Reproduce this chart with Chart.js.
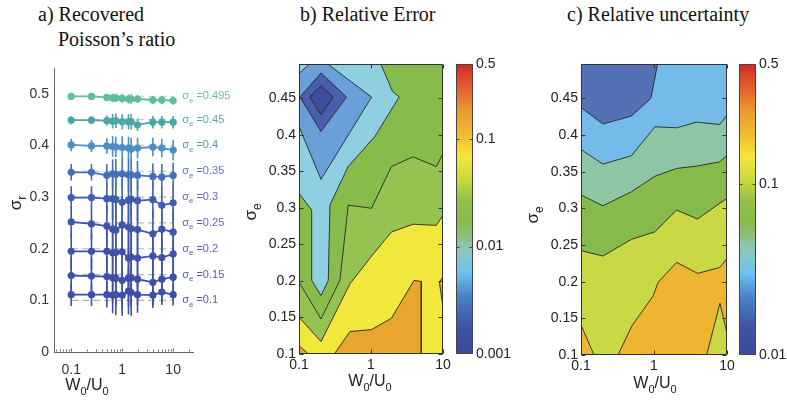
<!DOCTYPE html>
<html>
<head>
<meta charset="utf-8">
<script src="https://cdn.jsdelivr.net/npm/chart.js@4"></script>
<style>
  html, body { margin: 0; padding: 0; background: #fff; }
  body { position: relative; width: 787px; height: 408px; overflow: hidden; }
  canvas { position: absolute; top: 0; }
  .title {
    position: absolute; white-space: nowrap; color: #111;
    font-family: "Liberation Serif", "Times New Roman", serif;
    font-size: 20px; line-height: 24px;
  }
</style>
</head>
<body>
<div class="title" style="left:38px;top:2px">a) Recovered</div>
<div class="title" style="left:58px;top:27px">Poisson’s ratio</div>
<div class="title" style="left:300px;top:2px">b) Relative Error</div>
<div class="title" style="left:567px;top:2px">c) Relative uncertainty</div>

<canvas id="chartA" width="240" height="408" style="left:0px"></canvas>
<canvas id="chartB" width="230" height="408" style="left:230px"></canvas>
<canvas id="barB" width="100" height="408" style="left:440px"></canvas>
<canvas id="chartC" width="215" height="408" style="left:520px"></canvas>
<canvas id="barC" width="62" height="408" style="left:725px"></canvas>

<script>
// ---- panel a: recovered Poisson's ratio ----
const W0U0 = [0.1, 0.25, 0.5, 0.65, 0.75, 1, 1.33, 1.5, 2, 4, 6, 10];
const sigmaE = [0.1, 0.15, 0.2, 0.25, 0.3, 0.35, 0.4, 0.45, 0.495];

const sigR_010 = [0.111, 0.111, 0.111, 0.110, 0.111, 0.110, 0.118, 0.115, 0.111, 0.110, 0.116, 0.111];
const sigR_015 = [0.148, 0.147, 0.146, 0.144, 0.143, 0.139, 0.143, 0.144, 0.141, 0.135, 0.141, 0.145];
const sigR_020 = [0.195, 0.195, 0.195, 0.192, 0.193, 0.194, 0.182, 0.184, 0.182, 0.186, 0.183, 0.190];
const sigR_025 = [0.252, 0.248, 0.244, 0.238, 0.236, 0.246, 0.242, 0.239, 0.237, 0.229, 0.238, 0.232];
const sigR_030 = [0.299, 0.299, 0.297, 0.297, 0.295, 0.290, 0.294, 0.296, 0.293, 0.295, 0.284, 0.289];
const sigR_035 = [0.348, 0.348, 0.342, 0.345, 0.344, 0.345, 0.343, 0.343, 0.342, 0.340, 0.339, 0.342];
const sigR_040 = [0.401, 0.399, 0.399, 0.398, 0.397, 0.396, 0.395, 0.393, 0.395, 0.397, 0.395, 0.391];
const sigR_045 = [0.449, 0.449, 0.448, 0.447, 0.448, 0.446, 0.446, 0.446, 0.440, 0.445, 0.445, 0.445];
const sigR_0495 = [0.495, 0.495, 0.493, 0.492, 0.492, 0.491, 0.490, 0.490, 0.490, 0.488, 0.488, 0.487];

const errR_010 = [0.022, 0.022, 0.025, 0.035, 0.040, 0.040, 0.045, 0.045, 0.035, 0.025, 0.025, 0.021];
const errR_015 = [0.035, 0.035, 0.040, 0.050, 0.055, 0.055, 0.055, 0.055, 0.050, 0.045, 0.045, 0.045];
const errR_020 = [0.035, 0.035, 0.045, 0.055, 0.060, 0.060, 0.060, 0.058, 0.055, 0.050, 0.050, 0.050];
const errR_025 = [0.030, 0.030, 0.040, 0.050, 0.052, 0.055, 0.055, 0.052, 0.048, 0.045, 0.045, 0.045];
const errR_030 = [0.022, 0.022, 0.030, 0.040, 0.042, 0.045, 0.045, 0.042, 0.040, 0.035, 0.035, 0.035];
const errR_035 = [0.016, 0.016, 0.022, 0.028, 0.030, 0.030, 0.032, 0.030, 0.028, 0.025, 0.025, 0.025];
const errR_040 = [0.012, 0.012, 0.015, 0.020, 0.020, 0.022, 0.022, 0.022, 0.020, 0.018, 0.018, 0.020];
const errR_045 = [0.008, 0.008, 0.010, 0.014, 0.014, 0.015, 0.015, 0.015, 0.012, 0.012, 0.012, 0.012];
const errR_0495 = [0.006, 0.006, 0.007, 0.008, 0.008, 0.009, 0.009, 0.009, 0.008, 0.008, 0.008, 0.008];

const recoveredSeries = [sigR_010, sigR_015, sigR_020, sigR_025, sigR_030, sigR_035, sigR_040, sigR_045, sigR_0495];
const recoveredErr = [errR_010, errR_015, errR_020, errR_025, errR_030, errR_035, errR_040, errR_045, errR_0495];

const ratioTicksA = [0.1, 1, 10];
const ratioMinorA = [0.05, 0.06, 0.07, 0.08, 0.09, 0.2, 0.3, 0.4, 0.5, 0.6, 0.7, 0.8, 0.9, 2, 3, 4, 5, 6, 7, 8, 9, 20];
const sigmaTicksA = [0, 0.1, 0.2, 0.3, 0.4, 0.5];

// ---- panels b, c: contour regions in (W0/U0, sigma_e) ----
const SIG_MAX = 0.497;
const ratioTicks = [0.1, 1, 10];
const sigmaTicks = [0.1, 0.15, 0.2, 0.25, 0.3, 0.35, 0.4, 0.45];

const errFull = [[0.1, 0.1], [0.1, SIG_MAX], [10, SIG_MAX], [10, 0.1]];
const errAbove002 = [[0.1, 0.1], [0.1, 0.1985], [0.202, 0.148], [0.37, 0.2008], [0.483, 0.3038], [1.016, 0.2995],
  [1.92, 0.3565], [3.84, 0.370], [8.09, 0.3565], [10, 0.3748], [10, 0.1]];
const errAbove005 = [[0.1, 0.1], [0.1, 0.1504], [0.202, 0.117], [0.51, 0.196], [1.0, 0.233], [1.92, 0.267],
  [3.84, 0.2777], [8.09, 0.276], [10, 0.29], [10, 0.1]];
const errAbove01a = [[0.1, 0.1], [0.1, 0.1115], [0.135, 0.1]];
const errAbove01b = [[0.309, 0.1], [0.51, 0.1307], [1.016, 0.1334], [1.92, 0.149], [3.96, 0.2008], [5.0, 0.1994], [5.0, 0.1]];
const errAbove01c = [[10, 0.2055], [8.9, 0.1985], [10, 0.164]];
const errBelow001 = [[0.1, SIG_MAX], [1.37, SIG_MAX], [1.99, 0.4595], [2.46, 0.4517], [1.13, 0.3977], [0.48, 0.3565],
  [0.269, 0.3038], [0.255, 0.2008], [0.202, 0.18], [0.15, 0.2008], [0.15, 0.297], [0.1, 0.3198]];
const errBelow0005 = [[0.1, 0.4838], [0.139, SIG_MAX], [0.25, SIG_MAX], [1.02, 0.4517], [0.202, 0.339], [0.1, 0.4114]];
const errBelow0002 = [[0.103, 0.4517], [0.202, 0.4847], [0.458, 0.4517], [0.202, 0.4046]];
const errBelow0001 = [[0.142, 0.4517], [0.202, 0.4673], [0.299, 0.4517], [0.202, 0.4275]];

const errLayers = [errFull, errAbove002, errAbove005, errAbove01a, errAbove01b, errAbove01c,
  errBelow001, errBelow0005, errBelow0002, errBelow0001];
const errLayerColors = ['#88bc4a', '#96c251', '#f2e73b', '#e8a62f', '#e8a62f', '#e8a62f',
  '#8ecfe0', '#6aa0d8', '#4b5eab', '#3e4d9e'];

const uncFull = [[0.1, 0.1], [0.1, SIG_MAX], [10, SIG_MAX], [10, 0.1]];
const uncAbove02a = [[0.1, 0.1], [0.1, 0.1409], [0.151, 0.1]];
const uncAbove02b = [[0.322, 0.1], [0.49, 0.1386], [0.974, 0.1809], [1.14, 0.1991], [2.04, 0.2264], [3.95, 0.2114],
  [8.0, 0.2195], [10, 0.2318], [10, 0.1295], [8.0, 0.1705], [5.26, 0.1]];
const uncBelow01 = [[0.1, SIG_MAX], [0.1, 0.2423], [0.2, 0.235], [0.49, 0.2577], [1.03, 0.268], [2.04, 0.2977],
  [3.95, 0.2855], [8.0, 0.307], [10, 0.3136], [10, SIG_MAX]];
const uncBelow005 = [[0.1, SIG_MAX], [0.1, 0.3182], [0.2, 0.3036], [0.49, 0.3227], [1.03, 0.344], [2.04, 0.3545],
  [3.83, 0.3577], [8.0, 0.3636], [10, 0.3727], [10, SIG_MAX]];
const uncBelow003 = [[0.1, SIG_MAX], [0.1, 0.3804], [0.2, 0.3604], [0.49, 0.3718], [1.03, 0.4113], [2.04, 0.41],
  [3.83, 0.4177], [8.0, 0.4145], [10, 0.4272], [10, SIG_MAX]];
const uncBelow002 = [[0.1, SIG_MAX], [1.12, SIG_MAX], [0.905, 0.45], [0.49, 0.426], [0.2, 0.415], [0.1, 0.4377]];

const uncLayers = [uncFull, uncAbove02a, uncAbove02b, uncBelow01, uncBelow005, uncBelow003, uncBelow002];
const uncLayerColors = ['#cad845', '#eeb533', '#eeb533', '#86ba4b', '#8ec6a3', '#74bbea', '#5571b6'];

// colour bars
const errBarTicks = [0.001, 0.01, 0.1, 0.5];
const uncBarTicks = [0.01, 0.1, 0.5];
const cmapPos = [0, 0.1, 0.2, 0.28, 0.36, 0.45, 0.53, 0.6, 0.68, 0.76, 0.84, 0.9, 1];
const cmapColors = ['#3b4a9c', '#3f55a6', '#4b82c7', '#6cc2ee', '#8dc8bd', '#86bb4d', '#93c047',
  '#cad840', '#f5e73a', '#f1b930', '#ea9a2e', '#e46c2d', '#d2292a'];

// styles
const seriesColors = ['#3e4fa6', '#3e4fa6', '#3f51a8', '#3f54ab', '#405cb0', '#4470b8', '#4a8ec4', '#4ba6a9', '#5ebd9c'];
const labelColors = ['#4a5bb4', '#4d5fb6', '#5262b6', '#5668b9', '#5a70bd', '#5a7cc4', '#5592c8', '#57aaad', '#66c3a2'];

const SANS = '"Liberation Sans", Arial, Helvetica, sans-serif';
Chart.defaults.font.family = SANS;
Chart.defaults.color = '#222';

function fmt(v) { return String(+Number(v).toFixed(3)); }

function withAlpha(hex, a) {
  const n = parseInt(hex.slice(1), 16);
  return `rgba(${n >> 16},${(n >> 8) & 255},${n & 255},${a})`;
}

// text with subscripts: parts = [[text, isSub], ...]
function drawSub(ctx, parts, x, y, size, color, rotate, align) {
  const big = size + 'px ' + SANS;
  const small = Math.round(size * 0.7) + 'px ' + SANS;
  ctx.save();
  ctx.translate(x, y);
  if (rotate) ctx.rotate(-Math.PI / 2);
  let w = 0;
  parts.forEach(([t, sub]) => { ctx.font = sub ? small : big; w += ctx.measureText(t).width; });
  let cx = align === 'left' ? 0 : -w / 2;
  ctx.fillStyle = color;
  ctx.textAlign = 'left';
  ctx.textBaseline = 'middle';
  parts.forEach(([t, sub]) => {
    ctx.font = sub ? small : big;
    ctx.fillText(t, cx, sub ? size * 0.38 : 0);
    cx += ctx.measureText(t).width;
  });
  ctx.restore();
}

const W_OVER_U = [['W', 0], ['0', 1], ['/U', 0], ['0', 1]];

function axisTitles(xPos, yPos, yParts) {
  return {
    id: 'axisTitles',
    afterDraw(chart) {
      const ctx = chart.ctx;
      drawSub(ctx, W_OVER_U, xPos[0], xPos[1], 16, '#222', false);
      drawSub(ctx, yParts, yPos[0], yPos[1], 17, '#222', true);
    }
  };
}

// inward ticks and optional box
function frame(cfg) {
  return {
    id: 'frame',
    afterDraw(chart) {
      const {ctx, chartArea: a, scales} = chart;
      const L = Math.round(a.left) + 0.5, R = Math.round(a.right) - 0.5;
      const T = Math.round(a.top) + 0.5, B = Math.round(a.bottom) - 0.5;
      ctx.save();
      ctx.strokeStyle = cfg.color;
      ctx.lineWidth = 1;
      ctx.beginPath();
      if (cfg.box) ctx.rect(L, T, R - L, B - T);
      (cfg.xTicks || []).forEach(v => {
        const px = Math.round(scales.x.getPixelForValue(v)) + 0.5;
        ctx.moveTo(px, B); ctx.lineTo(px, B - cfg.len);
        if (cfg.box) { ctx.moveTo(px, T); ctx.lineTo(px, T + cfg.len); }
      });
      (cfg.xMinor || []).forEach(v => {
        const px = Math.round(scales.x.getPixelForValue(v)) + 0.5;
        ctx.moveTo(px, B); ctx.lineTo(px, B - cfg.minorLen);
      });
      (cfg.yTicks || []).forEach(v => {
        const py = Math.round(scales.y.getPixelForValue(v)) + 0.5;
        ctx.moveTo(L, py); ctx.lineTo(L + cfg.len, py);
        if (cfg.box) { ctx.moveTo(R, py); ctx.lineTo(R - cfg.len, py); }
      });
      ctx.stroke();
      ctx.restore();
    }
  };
}

const errorBars = {
  id: 'errorBars',
  beforeDatasetsDraw(chart) {
    const {ctx, scales: {x, y}} = chart;
    ctx.save();
    ctx.lineWidth = 1.6;
    chart.data.datasets.forEach(ds => {
      if (!ds.errY) return;
      ctx.strokeStyle = ds.borderColor;
      ds.data.forEach((p, k) => {
        const px = x.getPixelForValue(p.x);
        ctx.beginPath();
        ctx.moveTo(px, y.getPixelForValue(p.y - ds.errY[k]));
        ctx.lineTo(px, y.getPixelForValue(p.y + ds.errY[k]));
        ctx.stroke();
      });
    });
    ctx.restore();
  }
};

const seriesLabels = {
  id: 'seriesLabels',
  afterDatasetsDraw(chart) {
    const {ctx, scales: {x, y}} = chart;
    sigmaE.forEach((s, i) => {
      drawSub(ctx, [['σ', 0], ['e', 1], [' =' + fmt(s), 0]],
        x.getPixelForValue(15), y.getPixelForValue(s), 11, labelColors[i], false, 'left');
    });
  }
};

function fixTicks(values) {
  return axis => { axis.ticks = values.map(v => ({value: v})); };
}

const noInteract = {
  responsive: false, animation: false, devicePixelRatio: 1, events: [],
  plugins: {legend: {display: false}, tooltip: {enabled: false}}
};

// ---------- chart a ----------
const aSets = [];
sigmaE.forEach((s, i) => aSets.push({
  data: [{x: 0.1, y: s}, {x: 10, y: s}], showLine: true,
  borderColor: withAlpha(seriesColors[i], 0.45), borderWidth: 1.2, borderDash: [7, 4],
  pointRadius: 0, order: 50
}));
recoveredSeries.forEach((vals, i) => aSets.push({
  data: W0U0.map((x, k) => ({x, y: vals[k]})), showLine: true,
  borderColor: seriesColors[i], backgroundColor: seriesColors[i], borderWidth: 1.8,
  pointRadius: 3.6, pointBorderWidth: 0, errY: recoveredErr[i], order: 9 - i
}));

new Chart(document.getElementById('chartA'), {
  type: 'scatter',
  data: {datasets: aSets},
  options: {
    ...noInteract,
    layout: {padding: {top: 68, left: 0, right: 47, bottom: 0}},
    scales: {
      x: {
        type: 'logarithmic', min: 0.046, max: 24.5,
        afterBuildTicks: fixTicks(ratioTicksA),
        afterFit: s => { s.height = 56; s.paddingLeft = 0; s.paddingRight = 0; },
        ticks: {callback: v => fmt(v), font: {size: 14}, color: '#333', padding: 10, maxRotation: 0, autoSkip: false},
        grid: {display: true, drawOnChartArea: false, drawTicks: false},
        border: {display: true, color: '#666'}
      },
      y: {
        min: 0, max: 0.55,
        afterBuildTicks: fixTicks(sigmaTicksA),
        afterFit: s => { s.width = 54; s.paddingTop = 0; s.paddingBottom = 0; },
        ticks: {callback: v => fmt(v), font: {size: 14}, color: '#333', padding: 5},
        grid: {display: true, drawOnChartArea: false, drawTicks: false},
        border: {display: true, color: '#666'}
      }
    }
  },
  plugins: [errorBars, seriesLabels,
    frame({color: '#666', box: false, len: 3, minorLen: 2, xTicks: ratioTicksA, xMinor: ratioMinorA}),
    axisTitles([87, 386], [16, 203], [['σ', 0], ['r', 1]])]
});

// ---------- contour charts ----------
function layerSets(layers, colors) {
  return layers.map((pts, i) => ({
    data: [...pts, pts[0]].map(([x, y]) => ({x, y})),
    showLine: true, fill: 'shape', tension: 0,
    backgroundColor: colors[i],
    borderColor: i === 0 ? 'rgba(0,0,0,0)' : '#262626',
    borderWidth: i === 0 ? 0 : 0.9,
    pointRadius: 0, pointHoverRadius: 0,
    order: layers.length - i
  }));
}

function contourChart(id, layers, colors, yAxisW, xAxisH, padRight, titles) {
  return new Chart(document.getElementById(id), {
    type: 'scatter',
    data: {datasets: layerSets(layers, colors)},
    options: {
      ...noInteract,
      layout: {padding: {top: 64, left: 0, right: padRight, bottom: 0}},
      scales: {
        x: {
          type: 'logarithmic', min: 0.1, max: 10,
          afterBuildTicks: fixTicks(ratioTicks),
          afterFit: s => { s.height = xAxisH; s.paddingLeft = 0; s.paddingRight = 0; },
          ticks: {callback: v => fmt(v), font: {size: 14}, color: '#222', padding: 3, maxRotation: 0, autoSkip: false},
          grid: {display: true, drawOnChartArea: false, drawTicks: false},
          border: {display: false}
        },
        y: {
          min: 0.1, max: SIG_MAX,
          afterBuildTicks: fixTicks(sigmaTicks),
          afterFit: s => { s.width = yAxisW; s.paddingTop = 0; s.paddingBottom = 0; },
          ticks: {callback: v => fmt(v), font: {size: 14}, color: '#222', padding: 3},
          grid: {display: true, drawOnChartArea: false, drawTicks: false},
          border: {display: false}
        }
      }
    },
    plugins: [frame({color: '#333', box: true, len: 4, xTicks: ratioTicks, yTicks: sigmaTicks}),
      axisTitles(titles[0], titles[1], [['σ', 0], ['e', 1]])]
  });
}

contourChart('chartB', errLayers, errLayerColors, 69, 54, 17, [[140, 382], [21, 212]]);
contourChart('chartC', uncLayers, uncLayerColors, 61, 53, 8, [[135, 384], [13, 215]]);

// ---------- colour bars ----------
function colorBar(id, min, max, ticks, padLeft, axisW, bottomPad) {
  const gradient = {
    id: 'gradient',
    afterDraw(chart) {
      const {ctx, chartArea: a, scales: {y}} = chart;
      const top = y.getPixelForValue(max), bot = y.getPixelForValue(min);
      const g = ctx.createLinearGradient(0, bot, 0, top);
      cmapPos.forEach((t, i) => g.addColorStop(t, cmapColors[i]));
      ctx.save();
      ctx.fillStyle = g;
      ctx.fillRect(a.left, top, a.right - a.left, bot - top);
      ctx.restore();
    }
  };
  return new Chart(document.getElementById(id), {
    type: 'scatter',
    data: {datasets: []},
    options: {
      ...noInteract,
      layout: {padding: {top: 64, left: padLeft, right: 0, bottom: bottomPad}},
      scales: {
        x: {display: false, min: 0, max: 1},
        y: {
          type: 'logarithmic', position: 'right', min: min, max: max,
          afterBuildTicks: fixTicks(ticks),
          afterFit: s => { s.width = axisW; s.paddingTop = 0; s.paddingBottom = 0; },
          ticks: {callback: v => fmt(v), font: {size: 14}, color: '#222', padding: 3},
          grid: {display: true, drawOnChartArea: false, drawTicks: false},
          border: {display: false}
        }
      }
    },
    plugins: [gradient, frame({color: '#444', box: true, len: 3, yTicks: ticks.slice(1, -1)})]
  });
}

colorBar('barB', 0.001, 0.5, errBarTicks, 16, 67, 54);
colorBar('barC', 0.01, 0.5, uncBarTicks, 14, 31, 53);
</script>
</body>
</html>
